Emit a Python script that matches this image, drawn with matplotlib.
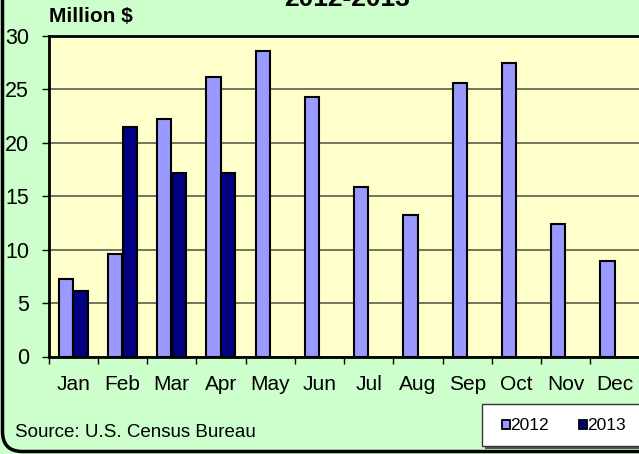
import numpy as np
import matplotlib
matplotlib.use('Agg')
import matplotlib.pyplot as plt
from matplotlib.patches import FancyBboxPatch, Rectangle

plt.rcParams['font.family'] = ['Liberation Sans', 'DejaVu Sans']

# data (million $)
months = ['Jan', 'Feb', 'Mar', 'Apr', 'May', 'Jun',
          'Jul', 'Aug', 'Sep', 'Oct', 'Nov', 'Dec']
v2012 = [7.3, 9.6, 22.2, 26.2, 28.6, 24.3, 15.9, 13.2, 25.6, 27.5, 12.4, 8.9]
v2013 = [6.1, 21.5, 17.2, 17.2]
series_names = ['2012', '2013']
yticks = [0, 5, 10, 15, 20, 25, 30]

W, H = 639, 454
fig = plt.figure(figsize=(W / 100, H / 100), dpi=100)
fig.patch.set_facecolor('#CCFFCC')

# rounded outer frame (top and right run off the picture)
frame = FancyBboxPatch((2.5 / 100, 2.5 / 100), 7.5, 6.0,
                       boxstyle='round,pad=0,rounding_size=0.2',
                       transform=fig.dpi_scale_trans, facecolor='none',
                       edgecolor='black', lw=2.5, zorder=0)
fig.patches.append(frame)

ax = fig.add_axes([48.5 / W, 1 - 356.5 / H, 591 / W, 320.5 / H])
ax.set_facecolor('#FFFFCC')

x = np.arange(len(months))
bw = 0.29
ax.bar(x - 0.148, v2012, bw, color='#9999FF', edgecolor='black', lw=1.5, zorder=3)
ax.bar(x[:len(v2013)] + 0.148, v2013, bw, color='#000080', edgecolor='black', lw=1.5, zorder=3)

ax.set_xlim(-0.5, len(months) - 0.5)
ax.set_ylim(0, 30)
ax.set_yticks(yticks)
ax.yaxis.grid(True, color='#4e4e40', lw=1.1, zorder=1)
ax.tick_params(axis='y', direction='out', length=5, width=1, pad=9, labelsize=15.5)

ax.set_xticks(np.arange(len(months) + 1) - 0.5)
ax.set_xticklabels([])
ax.tick_params(axis='x', which='major', direction='out', length=5, width=1)
ax.set_xticks(x, minor=True)
ax.set_xticklabels(months, minor=True)
ax.tick_params(axis='x', which='minor', length=0, pad=13, labelsize=15)

for s in ['left', 'bottom', 'top']:
    ax.spines[s].set_linewidth(2)
ax.spines['right'].set_color('#888888')

fig.text(49 / W, 1 - 22 / H, 'Million $', fontsize=15, fontweight='bold', va='baseline')
fig.text(347 / W, 1 - 6 / H, '2012-2013', fontsize=19, fontweight='bold',
         ha='center', va='baseline')
fig.text(15 / W, 1 - 437 / H, 'Source: U.S. Census Bureau', fontsize=13.5, va='baseline')

# legend box with a soft shadow
shadow = Rectangle((485 / W, 1 - 449 / H), 170 / W, 42 / H, transform=fig.transFigure,
                   facecolor='#555555', edgecolor='none', zorder=4)
fig.patches.append(shadow)
lg = Rectangle((482 / W, 1 - 446 / H), 170 / W, 42 / H, transform=fig.transFigure,
               facecolor='white', edgecolor='#333333', lw=1.0, zorder=5)
fig.patches.append(lg)
handles = [Rectangle((0, 0), 1, 1, facecolor=c, edgecolor='black', lw=1.3)
           for c in ['#9999FF', '#000080']]
leg = fig.legend(handles, series_names, loc='center', bbox_to_anchor=(564 / W, 1 - 426 / H),
                 ncol=2, frameon=False, fontsize=12.5, handlelength=0.45, handleheight=0.45,
                 handletextpad=0.05, columnspacing=1.7)
leg.set_zorder(6)

fig.savefig('out.png', dpi=100, facecolor=fig.get_facecolor())
